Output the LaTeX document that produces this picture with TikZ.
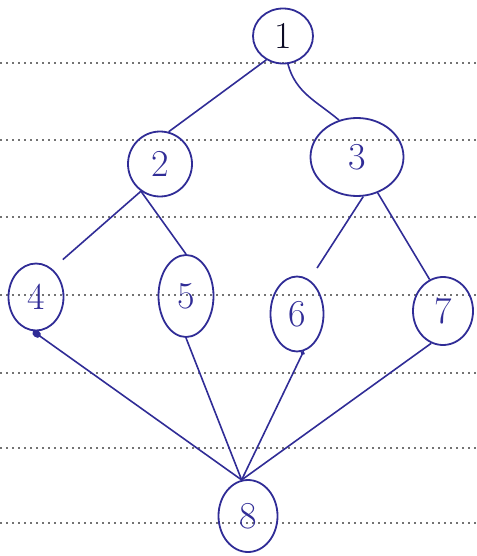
\documentclass[tikz,border=0pt]{standalone}
\usepackage{xcolor}
\definecolor{inkblue}{RGB}{48,44,150}
\definecolor{ruledots}{RGB}{115,115,115}
\usetikzlibrary{shapes.geometric,arrows.meta}

\begin{document}
\begin{tikzpicture}[x=1pt,y=-1pt,
  vertex/.style={draw=inkblue,ellipse,line width=1.8pt,inner sep=0pt,text=inkblue,
    font=\fontsize{38}{40}\selectfont},
  link/.style={draw=inkblue,line width=1.6pt},
  rule/.style={draw=ruledots,line width=1.6pt,dash pattern=on 1.6pt off 4.4pt}]
\useasboundingbox (0,0) rectangle (476,556);

% Ruled lines of the page
\foreach \y in {63,140,217,295,373,448,523}
  \draw[rule] (0,\y) -- (476,\y);

% Vertices, top to bottom
\node[vertex,minimum width=60pt,minimum height=55pt,text=black!75!inkblue] (n1) at (283,36) {1};
\node[vertex,minimum width=64pt,minimum height=65pt] (n2) at (160,164) {2};
\node[vertex,minimum width=93pt,minimum height=78pt] (n3) at (357,157) {3};
\node[vertex,minimum width=55pt,minimum height=67pt] (n4) at (36,297) {4};
\node[vertex,minimum width=55pt,minimum height=82pt] (n5) at (186,296) {5};
\node[vertex,minimum width=53pt,minimum height=75pt] (n6) at (297,314) {6};
\node[vertex,minimum width=60pt,minimum height=68pt] (n7) at (443,311) {7};
\node[vertex,minimum width=59pt,minimum height=72pt] (n8) at (248,516) {8};

% Edges from the upper levels
\draw[link] (n1.235) -- (n2.75);
\draw[link] (n1.280) to[out=-75,in=140] (n3.116);
\draw[link,shorten >=14pt] (n2.235) -- (n4.60);
\draw[link] (n2.235) -- (n5.90);
\draw[link,shorten >=14pt] (n3.279) -- (n6.70);
\draw[link] (n3.300) -- (n7.113);

% Edges meeting at 8
\draw[link,-{Circle[length=9pt,width=7pt]}] (n8.100) -- (n4.265);
\draw[link] (n8.100) -- (n5.270);
\draw[link,-{Circle[length=4pt]}] (n8.100) -- (n6.280);
\draw[link] (n8.100) -- (n7.250);
\end{tikzpicture}
\end{document}
